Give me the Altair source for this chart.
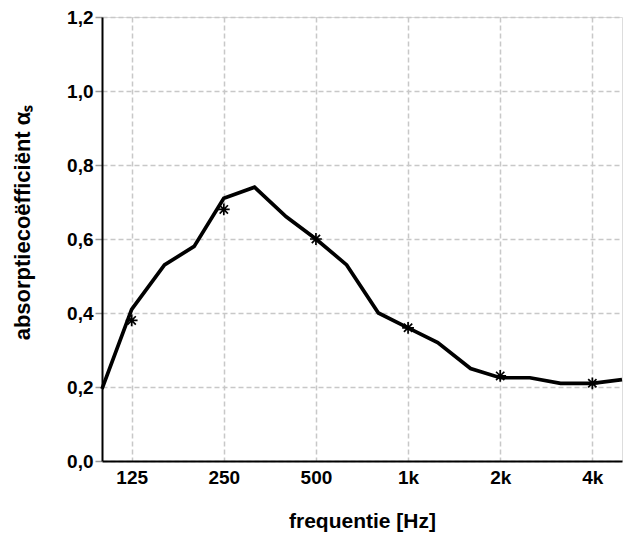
import altair as alt
import pandas as pd

# 1/3-octave band data (line)
freqs = [100, 125, 160, 200, 250, 315, 400, 500, 630, 800, 1000, 1250, 1600,
         2000, 2500, 3150, 4000, 5000]
alpha = [0.195, 0.41, 0.53, 0.58, 0.71, 0.74, 0.66, 0.60, 0.53, 0.40, 0.36,
         0.32, 0.25, 0.225, 0.225, 0.21, 0.21, 0.22]

# octave band data (asterisks)
oct_freqs = [125, 250, 500, 1000, 2000, 4000]
oct_alpha = [0.38, 0.68, 0.60, 0.36, 0.23, 0.21]

x_ticks = [125, 250, 500, 1000, 2000, 4000]
y_ticks = [0.0, 0.2, 0.4, 0.6, 0.8, 1.0, 1.2]

line_df = pd.DataFrame({"f": freqs, "a": alpha})
oct_df = pd.DataFrame({"f": oct_freqs, "a": oct_alpha})

FONT = "Liberation Sans"

x_scale = alt.Scale(type="log", domain=[100, 5000], nice=False)
y_scale = alt.Scale(domain=[0, 1.2], nice=False)

x_axis = alt.Axis(
    values=x_ticks,
    labelExpr="datum.value >= 1000 ? (datum.value / 1000) + 'k' : datum.value",
    title="frequentie [Hz]",
    titleFont=FONT, titleFontSize=21, titleFontWeight="bold", titleColor="black",
    titleY=60, titleBaseline="middle",
    labelFont=FONT, labelFontSize=19, labelFontWeight="bold", labelColor="black",
    labelPadding=7, ticks=False,
    domainColor="black", domainWidth=2,
    grid=True, gridColor="#c8c8c8", gridDash=[5, 3], gridWidth=1.5,
    labelFlush=False,
)

y_axis = alt.Axis(
    values=y_ticks,
    labelExpr="replace(format(datum.value, '.1f'), '.', ',')",
    title="absorptiecoëfficiënt αₛ",
    titleFont=FONT, titleFontSize=22, titleFontWeight="bold", titleColor="black",
    titleAngle=270, titleX=-80, titleY=205, titleAlign="center", titleBaseline="middle",
    labelFont=FONT, labelFontSize=19, labelFontWeight="bold", labelColor="black",
    labelPadding=2, tickSize=7, tickColor="#999999", tickWidth=1.5,
    domainColor="black", domainWidth=2,
    grid=True, gridColor="#c8c8c8", gridDash=[5, 3], gridWidth=1.5,
    labelFlush=False,
)

line = alt.Chart(line_df).mark_line(color="black", strokeWidth=3.7, strokeJoin="miter").encode(
    x=alt.X("f:Q", scale=x_scale, axis=x_axis),
    y=alt.Y("a:Q", scale=y_scale, axis=y_axis),
)

asterisk = "M0,-1V1M-1,0H1M-0.7,-0.7L0.7,0.7M-0.7,0.7L0.7,-0.7"
stars = alt.Chart(oct_df).mark_point(
    shape=asterisk, filled=False, color="black", strokeWidth=1.7, size=140, opacity=1
).encode(
    x=alt.X("f:Q", scale=x_scale),
    y=alt.Y("a:Q", scale=y_scale),
)

chart = alt.layer(line, stars).properties(
    width=520, height=444,
    autosize=alt.AutoSizeParams(type="none"),
    padding={"left": 102, "top": 17, "right": 1, "bottom": 72},
).configure_view(
    stroke="black", strokeWidth=2
).configure(background="white")

chart.save("out.html", embed_options={"renderer": "svg", "actions": False})
